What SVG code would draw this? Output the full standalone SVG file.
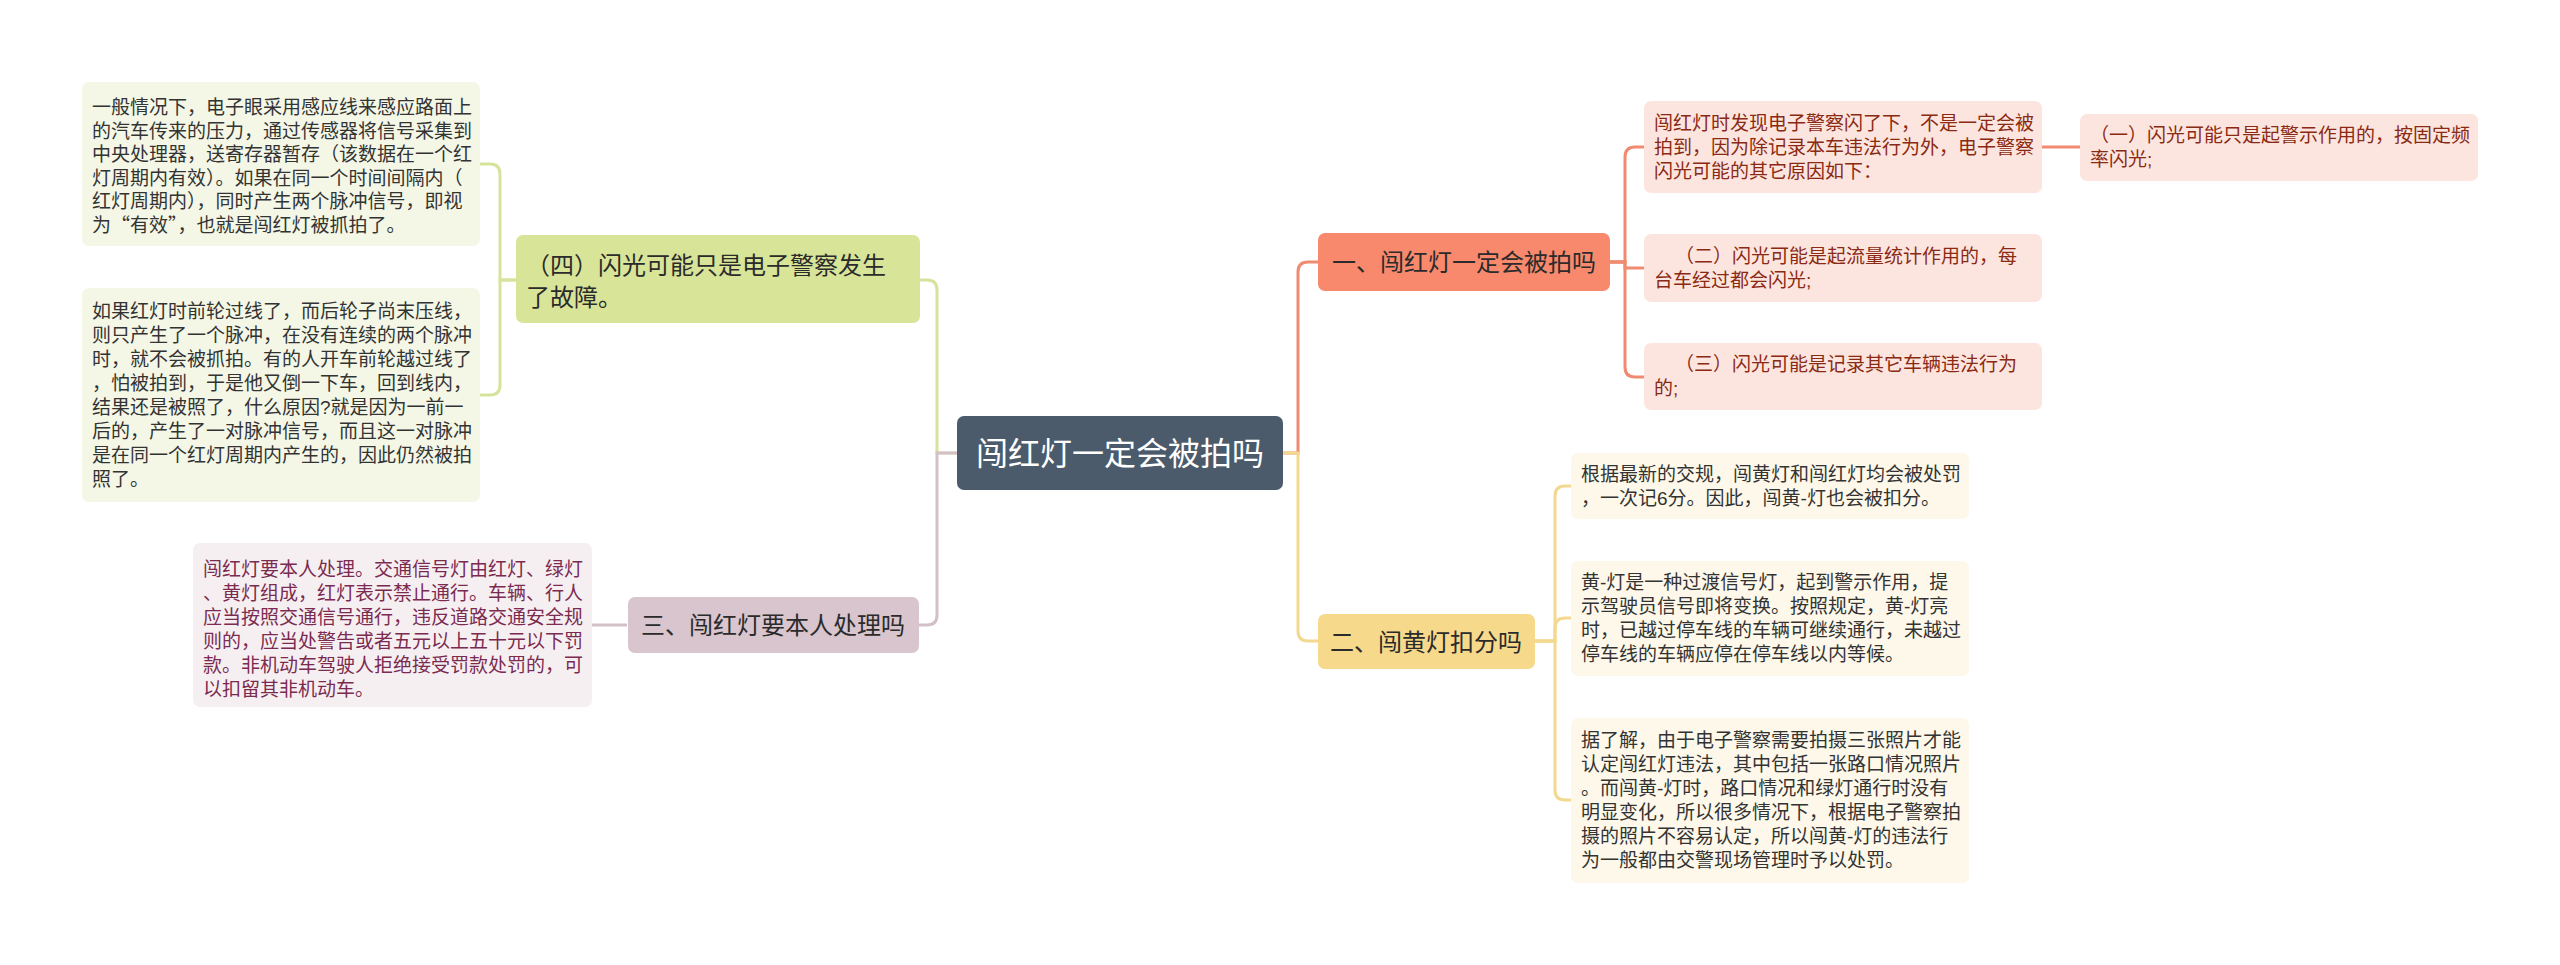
<svg xmlns="http://www.w3.org/2000/svg" width="2560" height="965" viewBox="0 0 2560 965">
<style>
text{font-family:"Liberation Sans","Noto Sans CJK SC",sans-serif;}
.cjk{font-family:"Noto Sans CJK SC",sans-serif;}
.root{fill:#4b5b6b;}
.rt{fill:#ffffff;font-size:32px;}
.b1{fill:#f8896d;}
.b2{fill:#f6d98b;}
.b3{fill:#d8c5cd;}
.b4{fill:#d8e598;}
.bt{fill:#2b2b2b;font-size:24px;}
.c1{fill:#fde5df;}
.c1t{fill:#8a2a12;font-size:19px;}
.c2{fill:#fdf8e9;}
.c2t{fill:#333333;font-size:19px;}
.c3{fill:#f6eff2;}
.c3t{fill:#7b2b50;font-size:19px;}
.c4{fill:#f4f7e6;}
.c4t{fill:#333333;font-size:19px;}
.l1{stroke:#f08a70;}
.l2{stroke:#f3d98f;}
.l3{stroke:#d3c0c9;}
.l4{stroke:#d5e39b;}
#connectors path{fill:none;stroke-width:3;}
</style>
<rect x="0" y="0" width="2560" height="965" fill="#ffffff"/>
<g id="connectors">
<path class="l1" d="M1283,453 H1298 V272 Q1298,262 1308,262 H1318"/>
<path class="l2" d="M1283,453 H1298 V631 Q1298,641 1308,641 H1318"/>
<path class="l4" d="M957,453 H937 V290 Q937,280 927,280 H919"/>
<path class="l3" d="M957,453 H937 V615 Q937,625 927,625 H919"/>
<path class="l1" d="M1610,262 H1625 V157 Q1625,147 1635,147 H1644"/>
<path class="l1" d="M1610,262 H1625 V268 H1644"/>
<path class="l1" d="M1610,262 H1625 V367 Q1625,377 1635,377 H1644"/>
<path class="l1" d="M2042,147 H2080"/>
<path class="l2" d="M1535,641 H1555 V496 Q1555,486 1565,486 H1571"/>
<path class="l2" d="M1535,641 H1555 V628 Q1555,618 1565,618 H1571"/>
<path class="l2" d="M1535,641 H1555 V790 Q1555,800 1565,800 H1571"/>
<path class="l4" d="M516,280 H500 V174 Q500,164 490,164 H480"/>
<path class="l4" d="M516,280 H500 V385 Q500,395 490,395 H480"/>
<path class="l3" d="M627,625 H591"/>
</g>
<g id="root">
<rect class="root" x="957" y="416" width="326" height="74" rx="7"/>
<text class="rt" x="1120" y="465" text-anchor="middle">闯红灯一定会被拍吗</text>
</g>
<g id="branch1">
<rect class="b1" x="1318" y="233" width="292" height="58" rx="7"/>
<text class="bt" x="1464" y="271" text-anchor="middle">一、闯红灯一定会被拍吗</text>
</g>
<g id="b1c1">
<rect class="c1" x="1644" y="101" width="398" height="92" rx="7"/>
<text class="c1t"><tspan x="1654" y="130">闯红灯时发现电子警察闪了下，不是一定会被</tspan><tspan x="1654" y="154">拍到，因为除记录本车违法行为外，电子警察</tspan><tspan x="1654" y="178">闪光可能的其它原因如下：</tspan></text>
</g>
<g id="b1c1g1">
<rect class="c1" x="2080" y="114" width="398" height="67" rx="7"/>
<text class="c1t"><tspan x="2090" y="142">（一）闪光可能只是起警示作用的，按固定频</tspan><tspan x="2090" y="166">率闪光;</tspan></text>
</g>
<g id="b1c2">
<rect class="c1" x="1644" y="234" width="398" height="68" rx="7"/>
<text class="c1t"><tspan x="1675" y="263">（二）闪光可能是起流量统计作用的，每</tspan><tspan x="1654" y="287">台车经过都会闪光;</tspan></text>
</g>
<g id="b1c3">
<rect class="c1" x="1644" y="343" width="398" height="67" rx="7"/>
<text class="c1t"><tspan x="1675" y="371">（三）闪光可能是记录其它车辆违法行为</tspan><tspan x="1654" y="395">的;</tspan></text>
</g>
<g id="branch2">
<rect class="b2" x="1318" y="614" width="217" height="55" rx="7"/>
<text class="bt" x="1426" y="651" text-anchor="middle">二、闯黄灯扣分吗</text>
</g>
<g id="b2c1">
<rect class="c2" x="1571" y="453" width="398" height="66" rx="7"/>
<text class="c2t"><tspan x="1581" y="481">根据最新的交规，闯黄灯和闯红灯均会被处罚</tspan><tspan x="1581" y="505">，一次记6分。因此，闯黄-灯也会被扣分。</tspan></text>
</g>
<g id="b2c2">
<rect class="c2" x="1571" y="561" width="398" height="115" rx="7"/>
<text class="c2t"><tspan x="1581" y="589">黄-灯是一种过渡信号灯，起到警示作用，提</tspan><tspan x="1581" y="613">示驾驶员信号即将变换。按照规定，黄-灯亮</tspan><tspan x="1581" y="637">时，已越过停车线的车辆可继续通行，未越过</tspan><tspan x="1581" y="661">停车线的车辆应停在停车线以内等候。</tspan></text>
</g>
<g id="b2c3">
<rect class="c2" x="1571" y="718" width="398" height="165" rx="7"/>
<text class="c2t"><tspan x="1581" y="747">据了解，由于电子警察需要拍摄三张照片才能</tspan><tspan x="1581" y="771">认定闯红灯违法，其中包括一张路口情况照片</tspan><tspan x="1581" y="795">。而闯黄-灯时，路口情况和绿灯通行时没有</tspan><tspan x="1581" y="819">明显变化，所以很多情况下，根据电子警察拍</tspan><tspan x="1581" y="843">摄的照片不容易认定，所以闯黄-灯的违法行</tspan><tspan x="1581" y="867">为一般都由交警现场管理时予以处罚。</tspan></text>
</g>
<g id="branch4">
<rect class="b4" x="516" y="235" width="404" height="88" rx="7"/>
<text class="bt"><tspan x="526" y="274">（四）闪光可能只是电子警察发生</tspan><tspan x="526" y="306">了故障。</tspan></text>
</g>
<g id="b4c1">
<rect class="c4" x="82" y="82" width="398" height="164" rx="7"/>
<text class="c4t"><tspan x="92" y="114">一般情况下，电子眼采用感应线来感应路面上</tspan><tspan x="92" y="137.5">的汽车传来的压力，通过传感器将信号采集到</tspan><tspan x="92" y="161">中央处理器，送寄存器暂存（该数据在一个红</tspan><tspan x="92" y="184.5">灯周期内有效）。如果在同一个时间间隔内（</tspan><tspan x="92" y="208">红灯周期内），同时产生两个脉冲信号，即视</tspan><tspan class="cjk" x="92" y="231.5">为“有效”，也就是闯红灯被抓拍了。</tspan></text>
</g>
<g id="b4c2">
<rect class="c4" x="82" y="288" width="398" height="214" rx="7"/>
<text class="c4t"><tspan x="92" y="318">如果红灯时前轮过线了，而后轮子尚末压线，</tspan><tspan x="92" y="342">则只产生了一个脉冲，在没有连续的两个脉冲</tspan><tspan x="92" y="366">时，就不会被抓拍。有的人开车前轮越过线了</tspan><tspan x="92" y="390">，怕被拍到，于是他又倒一下车，回到线内，</tspan><tspan x="92" y="414">结果还是被照了，什么原因?就是因为一前一</tspan><tspan x="92" y="438">后的，产生了一对脉冲信号，而且这一对脉冲</tspan><tspan x="92" y="462">是在同一个红灯周期内产生的，因此仍然被拍</tspan><tspan x="92" y="486">照了。</tspan></text>
</g>
<g id="branch3">
<rect class="b3" x="628" y="597" width="291" height="56" rx="7"/>
<text class="bt" x="773" y="634" text-anchor="middle">三、闯红灯要本人处理吗</text>
</g>
<g id="b3c1">
<rect class="c3" x="193" y="543" width="399" height="164" rx="7"/>
<text class="c3t"><tspan x="203" y="576">闯红灯要本人处理。交通信号灯由红灯、绿灯</tspan><tspan x="203" y="600">、黄灯组成，红灯表示禁止通行。车辆、行人</tspan><tspan x="203" y="624">应当按照交通信号通行，违反道路交通安全规</tspan><tspan x="203" y="648">则的，应当处警告或者五元以上五十元以下罚</tspan><tspan x="203" y="672">款。非机动车驾驶人拒绝接受罚款处罚的，可</tspan><tspan x="203" y="696">以扣留其非机动车。</tspan></text>
</g>
</svg>
